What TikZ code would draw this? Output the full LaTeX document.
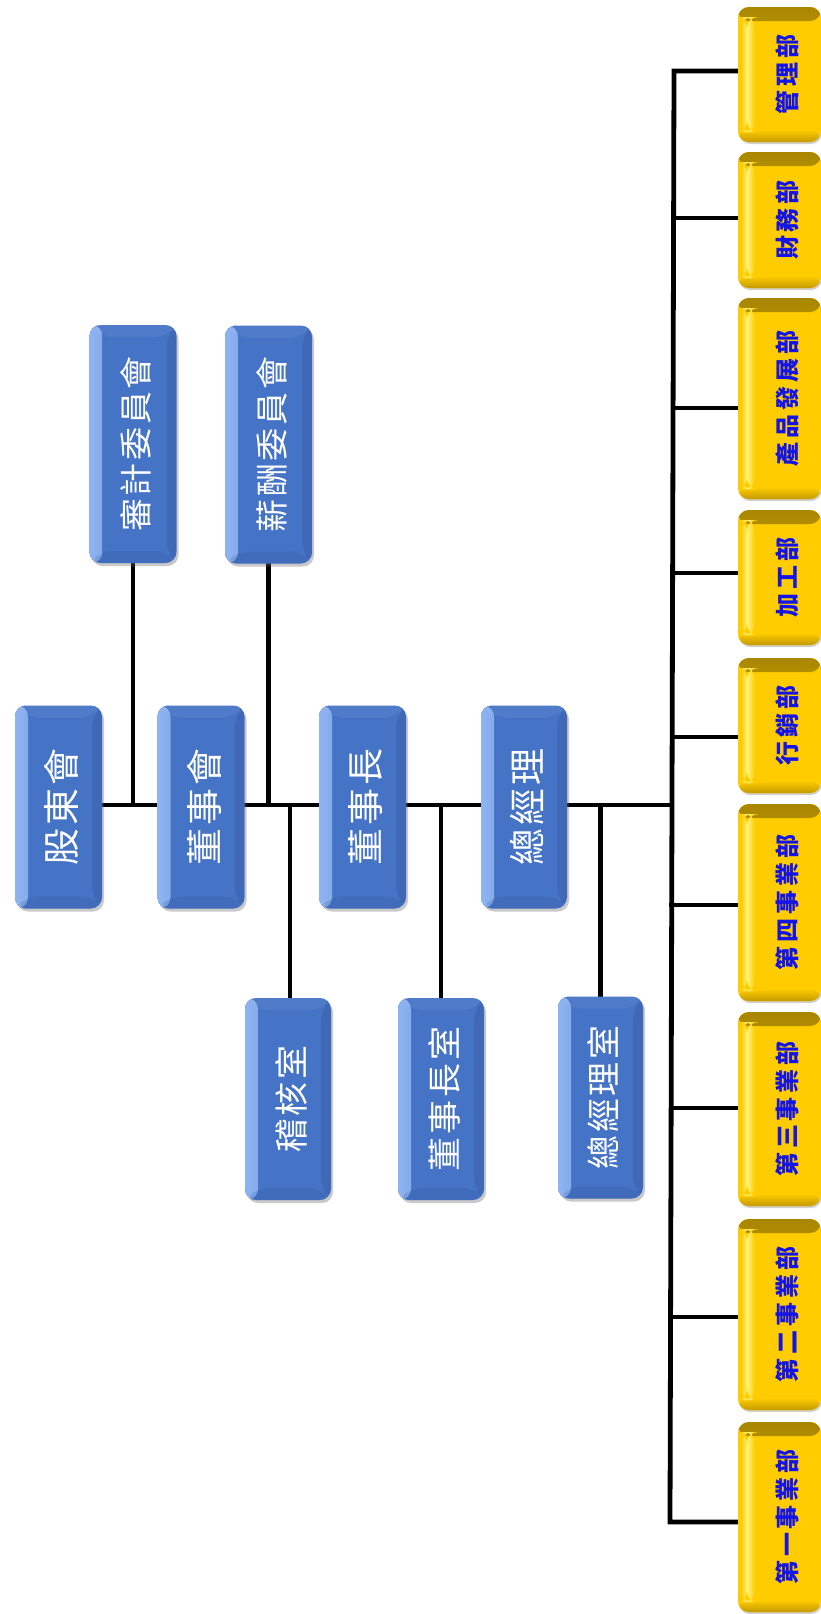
\documentclass[tikz,border=0pt]{standalone}
\usepackage{fontspec}
\usetikzlibrary{shadows,backgrounds}
\newfontfamily\cjkb{Noto Sans CJK TC}[LetterSpace=8]
\newfontfamily\cjky{Noto Sans CJK TC}[LetterSpace=16]
\definecolor{boxblue}{HTML}{4573C5}
\definecolor{bluelight}{HTML}{8FB4F2}
\definecolor{bluedark}{HTML}{2F4F8F}
\definecolor{boxyellow}{HTML}{FFCC00}
\definecolor{ydark}{HTML}{A88600}
\definecolor{ylight}{HTML}{FFF27A}
\definecolor{ybot}{HTML}{C49A00}
\definecolor{ytext}{HTML}{1414E6}
\newcommand{\vt}[1]{\rotatebox{90}{#1}}
\tikzset{
  bluebox/.style={rounded corners=11pt, fill=boxblue, inner sep=0pt,
    drop shadow={shadow xshift=2pt, shadow yshift=-3pt, opacity=0.35, fill=black!60},
    path picture={
      \fill[left color=bluelight, right color=boxblue]
        (path picture bounding box.north west) rectangle ([xshift=13pt]path picture bounding box.south west);
      \fill[bluedark, opacity=.25]
        (path picture bounding box.north east) -- ([xshift=-10pt,yshift=-12pt]path picture bounding box.north east)
        -- ([xshift=-10pt,yshift=12pt]path picture bounding box.south east) -- (path picture bounding box.south east) -- cycle;
      \fill[bluedark, opacity=.18]
        (path picture bounding box.south west) -- ([xshift=13pt,yshift=12pt]path picture bounding box.south west)
        -- ([xshift=-10pt,yshift=12pt]path picture bounding box.south east) -- (path picture bounding box.south east) -- cycle;
      \fill[white, opacity=.06]
        (path picture bounding box.north west) -- ([xshift=13pt,yshift=-12pt]path picture bounding box.north west)
        -- ([xshift=-10pt,yshift=-12pt]path picture bounding box.north east) -- (path picture bounding box.north east) -- cycle;
    }},
  mainbox/.style={bluebox, minimum width=87pt, minimum height=203pt},
  combox/.style={bluebox, minimum width=87pt, minimum height=238pt},
  lowbox/.style={bluebox, minimum width=86pt, minimum height=202pt},
  blab/.style={inner sep=0pt, text=white, xshift=3pt, font=\cjkb\fontsize{#1}{40}\selectfont},
  ybox/.style={rounded corners=11pt, fill=boxyellow, inner sep=0pt, minimum width=83pt,
    drop shadow={shadow xshift=1pt, shadow yshift=-2pt, opacity=0.3, fill=black!60},
    path picture={
      \fill[top color=ydark, bottom color=boxyellow]
        (path picture bounding box.north west) rectangle ([yshift=-14pt]path picture bounding box.north east);
      \fill[top color=boxyellow, bottom color=ybot]
        ([yshift=12pt]path picture bounding box.south west) rectangle (path picture bounding box.south east);
      \fill[left color=boxyellow, right color=ylight]
        ([xshift=3pt,yshift=-10pt]path picture bounding box.north west) rectangle ([xshift=9pt,yshift=10pt]path picture bounding box.south west);
      \fill[left color=ylight, right color=boxyellow]
        ([xshift=9pt,yshift=-10pt]path picture bounding box.north west) rectangle ([xshift=17pt,yshift=10pt]path picture bounding box.south west);
    }},
  ylab/.style={inner sep=0pt, text=ytext, xshift=8pt, font=\cjky\bfseries\fontsize{24}{28}\selectfont},
  conn/.style={line width=4.8pt, draw=black, line join=miter, line cap=rect}
}
\begin{document}
\begin{tikzpicture}[x=1pt, y=-1pt]
\useasboundingbox (0,0) rectangle (820,1614);

% spine coordinates
\coordinate (s1) at (674,71);
\coordinate (s2) at (673.6,218);
\coordinate (s3) at (673.1,408);
\coordinate (s4) at (672.6,573);
\coordinate (s5) at (672.2,737);
\coordinate (m)  at (672.0,805);
\coordinate (s6) at (671.7,905);
\coordinate (s7) at (671.1,1108);
\coordinate (s8) at (670.6,1317);
\coordinate (s9) at (670,1522);

% blue boxes
\node[mainbox] (gd)  at (58.5,807) {};
\node[mainbox] (dsh) at (201,807) {};
\node[mainbox] (dsz) at (362.5,807) {};
\node[mainbox, minimum width=86pt] (zjl) at (524,807) {};
\node[combox] (sj) at (133,444) {};
\node[combox] (xc) at (268.5,444.5) {};
\node[lowbox] (jh)   at (288,1099) {};
\node[lowbox] (dszs) at (441,1099) {};
\node[lowbox, minimum width=85pt] (zjls) at (600.5,1097.5) {};

% yellow boxes
\node[ybox, minimum height=135pt] (y1) at (779.5,74.5) {};
\node[ybox, minimum height=136pt] (y2) at (779.5,220) {};
\node[ybox, minimum height=201pt] (y3) at (779.5,398.5) {};
\node[ybox, minimum height=135pt] (y4) at (779.5,577.5) {};
\node[ybox, minimum height=135pt] (y5) at (779.5,725.5) {};
\node[ybox, minimum height=197pt] (y6) at (779.5,902.5) {};
\node[ybox, minimum height=194pt] (y7) at (779.5,1109) {};
\node[ybox, minimum height=191pt] (y8) at (779.5,1314.5) {};
\node[ybox, minimum height=190pt] (y9) at (779.5,1517) {};

% connectors, under the boxes
\begin{scope}[on background layer]
\fill[white] (0,0) rectangle (820,1614);
\draw[conn] (s1 -| y1.west) -- (s1) -- (s9) -- (s9 -| y9.west);
\draw[conn] (gd.east |- m) -- (m);
\draw[conn] (sj.south) -- (sj.south |- m);
\draw[conn] (xc.south) -- (xc.south |- m);
\draw[conn] ([xshift=2pt]jh.north |- m) -- ([xshift=2pt]jh.north);
\draw[conn] (dszs.north |- m) -- (dszs.north);
\draw[conn] (zjls.north |- m) -- (zjls.north);
\draw[conn] (s2) -- (s2 -| y2.west);
\draw[conn] (s3) -- (s3 -| y3.west);
\draw[conn] (s4) -- (s4 -| y4.west);
\draw[conn] (s5) -- (s5 -| y5.west);
\draw[conn] (s6) -- (s6 -| y6.west);
\draw[conn] (s7) -- (s7 -| y7.west);
\draw[conn] (s8) -- (s8 -| y8.west);
\end{scope}

% labels
\node[blab=37] (gdt)  at (gd.center)  {\vt{股東會}};
\node[blab=37] (dsht) at (dsh.center) {\vt{董事會}};
\node[blab=37] (dszt) at (dsz.center) {\vt{董事長}};
\node[blab=37] (zjlt) at (zjl.center) {\vt{總經理}};
\node[blab=33] (sjt)  at (sj.center)  {\vt{審計委員會}};
\node[blab=33] (xct)  at (xc.center)  {\vt{薪酬委員會}};
\node[blab=34] (jht)  at (jh.center)  {\vt{稽核室}};
\node[blab=34] (dszst) at (dszs.center) {\vt{董事長室}};
\node[blab=34] (zjlst) at (zjls.center) {\vt{總經理室}};
\node[ylab] (y1t) at (y1.center) {\vt{管理部}};
\node[ylab] (y2t) at (y2.center) {\vt{財務部}};
\node[ylab] (y3t) at (y3.center) {\vt{產品發展部}};
\node[ylab] (y4t) at (y4.center) {\vt{加工部}};
\node[ylab] (y5t) at (y5.center) {\vt{行銷部}};
\node[ylab] (y6t) at (y6.center) {\vt{第四事業部}};
\node[ylab] (y7t) at (y7.center) {\vt{第三事業部}};
\node[ylab] (y8t) at (y8.center) {\vt{第二事業部}};
\node[ylab] (y9t) at (y9.center) {\vt{第一事業部}};
\end{tikzpicture}
\end{document}
